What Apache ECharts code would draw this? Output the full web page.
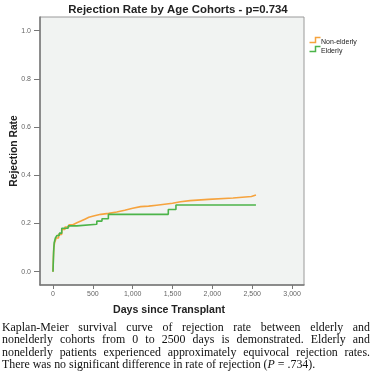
<!DOCTYPE html>
<html><head><meta charset="utf-8">
<script src="https://cdn.jsdelivr.net/npm/echarts@6/dist/echarts.min.js"></script>
<style>
html,body{margin:0;padding:0;background:#fff;}
#c{position:absolute;left:0;top:0;width:372px;height:383px;}
#cap{position:absolute;left:2px;top:321px;width:368px;font-family:"Liberation Serif","DejaVu Serif",serif;font-size:11.9px;line-height:12.3px;color:#111;}
#cap div{text-align:justify;text-align-last:justify;white-space:nowrap;}
#cap div.last{text-align-last:left;}
</style></head>
<body>
<div id="c"></div>
<div id="cap"><div>Kaplan-Meier survival curve of rejection rate between elderly and</div><div>nonelderly cohorts from 0 to 2500 days is demonstrated. Elderly and</div><div>nonelderly patients experienced approximately equivocal rejection rates.</div><div class="last">There was no significant difference in rate of rejection (<i>P</i> = .734).</div></div>
<script>
var title = 'Rejection Rate by Age Cohorts - p=0.734';
var xName = 'Days since Transplant';
var yName = 'Rejection Rate';
var seriesNames = ['Non-elderly', 'Elderly'];
var seriesColors = ['#f6a33e', '#4cb44a'];
var xTicks = [0, 500, 1000, 1500, 2000, 2500, 3000];
var yTicks = [0, 0.2, 0.4, 0.6, 0.8, 1.0];
var nonElderlyDays = [0, 5, 10, 20, 40, 70, 110, 150, 200, 250, 300, 350, 400, 450, 520, 600, 700, 800, 900, 1000, 1100, 1200, 1300, 1400, 1500, 1600, 1720, 1950, 2260, 2490, 2547];
var nonElderlyRate = [0, 0.06, 0.10, 0.12, 0.14, 0.155, 0.175, 0.185, 0.195, 0.203, 0.21, 0.218, 0.226, 0.232, 0.238, 0.242, 0.248, 0.255, 0.263, 0.27, 0.272, 0.276, 0.28, 0.284, 0.29, 0.295, 0.30, 0.306, 0.312, 0.318, 0.318];
var elderlyDays = [0, 8, 15, 30, 50, 80, 110, 190, 300, 550, 615, 695, 1447, 1543, 2547];
var elderlyRate = [0, 0.08, 0.12, 0.14, 0.15, 0.16, 0.18, 0.19, 0.197, 0.21, 0.22, 0.238, 0.258, 0.277, 0.277];

function pairs(xs, ys){ return xs.map(function(x,i){ return [x, ys[i]]; }); }
function stepIconGraphic(top, color){
  return {type:'polyline', left:307, top:top, silent:true,
    shape:{points:[[0,5],[6,5],[6,0],[11,0]]},
    style:{stroke:color, lineWidth:1.5, fill:null}};
}
var chart = echarts.init(document.getElementById('c'), null, {renderer:'canvas'});
chart.setOption({
  animation:false,
  backgroundColor:'#fff',
  title:{text:title, left:173, textAlign:'center', top:-1,
    textStyle:{fontFamily:'Liberation Sans', fontWeight:'bold', fontSize:11.4, color:'#222'}},
  legend:{orient:'vertical', left:306, top:33, itemGap:2, itemWidth:12, itemHeight:7,
    itemStyle:{opacity:0}, lineStyle:{opacity:0},
    textStyle:{fontSize:7, color:'#222', fontFamily:'Liberation Sans', padding:[0,0,0,-8]},
    data:seriesNames},
  graphic:[stepIconGraphic(35, seriesColors[0]), stepIconGraphic(44, seriesColors[1])],
  grid:{left:40, top:17, width:264, height:268, containLabel:false, outerBoundsMode:'none',
    show:true, backgroundColor:'#f1f3f2', borderColor:'#9a9a9a', borderWidth:1},
  xAxis:{type:'value', min:-163, max:3150, name:xName, nameLocation:'middle', nameGap:20, nameMoveOverlap:false,
    nameTextStyle:{fontFamily:'Liberation Sans', fontWeight:'bold', fontSize:10.6, color:'#222', padding:[0,0,2,-6]},
    axisLine:{show:true, onZero:false, lineStyle:{color:'#777', width:1.5}},
    axisTick:{show:true, length:4, customValues:xTicks, lineStyle:{color:'#777'}},
    axisLabel:{customValues:xTicks, fontSize:7, color:'#666', margin:6, fontFamily:'Liberation Sans',
      formatter:function(v){ return v.toLocaleString('en-US'); }},
    splitLine:{show:false}},
  yAxis:{type:'value', min:-0.0552, max:1.0569, name:yName, nameLocation:'middle', nameGap:21, nameMoveOverlap:false,
    nameTextStyle:{fontFamily:'Liberation Sans', fontWeight:'bold', fontSize:10.3, color:'#222'},
    axisLine:{show:true, onZero:false, lineStyle:{color:'#777', width:1.5}},
    axisTick:{show:true, length:6, customValues:yTicks, lineStyle:{color:'#777'}},
    axisLabel:{customValues:yTicks, fontSize:7, color:'#666', margin:9, fontFamily:'Liberation Sans',
      formatter:function(v){ return v.toFixed(1); }},
    splitLine:{show:false}},
  series:[
    {name:seriesNames[0], type:'line', step:'end', showSymbol:false, data:pairs(nonElderlyDays, nonElderlyRate),
      lineStyle:{color:seriesColors[0], width:1.6}, itemStyle:{color:seriesColors[0]}},
    {name:seriesNames[1], type:'line', step:'end', showSymbol:false, data:pairs(elderlyDays, elderlyRate),
      lineStyle:{color:seriesColors[1], width:1.6}, itemStyle:{color:seriesColors[1]}, z:3}
  ]
});
</script>
</body></html>
